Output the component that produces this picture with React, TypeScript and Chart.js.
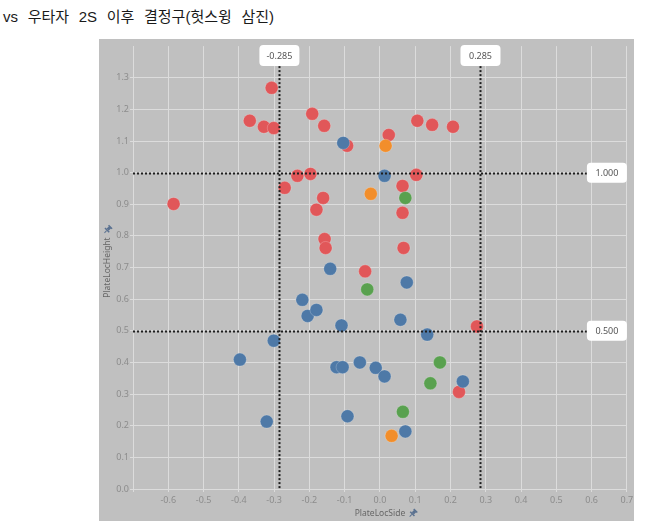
import { useEffect, useRef } from 'react';
import { Chart, registerables } from 'chart.js';

Chart.register(...registerables);

const TITLE = 'vs 우타자 2S 이후 결정구(헛스윙 삼진)';
const X_TITLE = 'PlateLocSide';
const Y_TITLE = 'PlateLocHeight';

// plate location (side, height) per pitch, grouped by mark colour
const redSide = [-0.585, -0.307, -0.369, -0.329, -0.301, -0.192, -0.158, -0.093, 0.025, 0.106, 0.148, 0.207,
  -0.270, -0.234, -0.197, -0.180, -0.161, -0.157, -0.154, 0.064, 0.103, 0.064, 0.067, -0.042, 0.275, 0.224];
const redHeight = [0.901, 1.268, 1.164, 1.145, 1.141, 1.186, 1.148, 1.085, 1.119, 1.164, 1.151, 1.145,
  0.952, 0.990, 0.996, 0.883, 0.920, 0.790, 0.762, 0.958, 0.993, 0.873, 0.762, 0.688, 0.514, 0.307];

const blueSide = [-0.104, 0.013, -0.141, -0.220, -0.205, -0.180, -0.109, 0.076, 0.058, 0.134, -0.397,
  -0.301, -0.123, -0.106, -0.057, -0.012, 0.013, 0.235, -0.321, -0.092, 0.072];
const blueHeight = [1.094, 0.990, 0.696, 0.598, 0.547, 0.566, 0.517, 0.653, 0.535, 0.488, 0.409,
  0.469, 0.385, 0.385, 0.400, 0.383, 0.356, 0.340, 0.213, 0.230, 0.182];

const orangeSide = [0.016, -0.026, 0.033];
const orangeHeight = [1.085, 0.933, 0.168];

const greenSide = [0.072, -0.036, 0.170, 0.143, 0.065];
const greenHeight = [0.920, 0.631, 0.400, 0.334, 0.244];

const refSides = [-0.285, 0.285];
const refHeights = [1.0, 0.5];

const X_MIN = -0.7;
const X_MAX = 0.7;
const Y_MIN = 0;
const Y_MAX = 1.4;
const STEP = 0.1;

const BG = '#c0c0c0';
const GRID = '#dcdcdc';
const TICK_COLOR = '#8c8c8c';
const FONT = "'Noto Sans', 'DejaVu Sans', sans-serif";

const toPoints = (xs: number[], ys: number[]) => xs.map((x, i) => ({ x, y: ys[i] }));

const fmt = (v: number) => (Math.abs(v) < 1e-9 ? '0.0' : v.toFixed(1));

function drawPin(ctx: CanvasRenderingContext2D, x: number, y: number) {
  ctx.save();
  ctx.translate(x, y);
  ctx.rotate(Math.PI / 4);
  ctx.fillStyle = '#5a7190';
  ctx.strokeStyle = '#5a7190';
  ctx.lineWidth = 1;
  ctx.fillRect(-2.5, -4, 5, 1.5);
  ctx.fillRect(-1.5, -3, 3, 3.5);
  ctx.fillRect(-3, 0.5, 6, 1.5);
  ctx.beginPath();
  ctx.moveTo(0, 2);
  ctx.lineTo(0, 5);
  ctx.stroke();
  ctx.restore();
}

function roundBox(ctx: CanvasRenderingContext2D, x: number, y: number, w: number, h: number, text: string) {
  ctx.save();
  ctx.fillStyle = '#ffffff';
  ctx.beginPath();
  ctx.roundRect(x, y, w, h, 4);
  ctx.fill();
  ctx.fillStyle = '#555555';
  ctx.font = `9px ${FONT}`;
  ctx.textAlign = 'center';
  ctx.textBaseline = 'middle';
  ctx.fillText(text, x + w / 2, y + h / 2 + 0.5);
  ctx.restore();
}

const backgroundPlugin = {
  id: 'panelBackground',
  beforeDraw(chart: Chart) {
    const { ctx, width, height } = chart;
    ctx.save();
    ctx.fillStyle = BG;
    ctx.fillRect(0, 0, width, height);
    ctx.restore();
  },
};

const referencePlugin = {
  id: 'referenceLines',
  afterDatasetsDraw(chart: Chart) {
    const { ctx, chartArea } = chart;
    const xs = chart.scales.x;
    const ys = chart.scales.y;
    const boxW = 40;
    const boxH = 21;

    ctx.save();
    ctx.strokeStyle = '#1e1e1e';
    ctx.lineWidth = 2;
    ctx.setLineDash([2, 2]);

    refSides.forEach((v) => {
      const px = Math.round(xs.getPixelForValue(v)) + 0.5;
      ctx.beginPath();
      ctx.moveTo(px, chartArea.top - 1 + boxH);
      ctx.lineTo(px, chartArea.bottom + 1);
      ctx.stroke();
    });
    refHeights.forEach((v) => {
      const py = Math.round(ys.getPixelForValue(v)) + 0.5;
      ctx.beginPath();
      ctx.moveTo(chartArea.left, py);
      ctx.lineTo(chartArea.right - boxW, py);
      ctx.stroke();
    });
    ctx.restore();

    refSides.forEach((v) => {
      const px = xs.getPixelForValue(v);
      roundBox(ctx, px - boxW / 2, chartArea.top - 1, boxW, boxH, v.toFixed(3));
    });
    refHeights.forEach((v) => {
      const py = ys.getPixelForValue(v);
      roundBox(ctx, chartArea.right - boxW, py - 10, boxW, 20, v.toFixed(3));
    });
  },
  afterDraw(chart: Chart) {
    const { ctx, chartArea } = chart;
    ctx.save();
    ctx.fillStyle = '#666666';
    ctx.font = `8.5px ${FONT}`;
    ctx.textBaseline = 'middle';

    // x axis title
    const cx = (chartArea.left + chartArea.right) / 2;
    const xw = ctx.measureText(X_TITLE).width;
    ctx.textAlign = 'center';
    ctx.fillText(X_TITLE, cx, chartArea.bottom + 25);
    drawPin(ctx, cx + xw / 2 + 8, chartArea.bottom + 24);

    // y axis title
    const cy = (chartArea.top + chartArea.bottom) / 2;
    const yw = ctx.measureText(Y_TITLE).width;
    ctx.save();
    ctx.translate(9, cy);
    ctx.rotate(-Math.PI / 2);
    ctx.fillText(Y_TITLE, 0, 0);
    ctx.restore();
    drawPin(ctx, 9, cy - yw / 2 - 8);
    ctx.restore();
  },
};

const App = () => {
  const canvasRef = useRef<HTMLCanvasElement>(null);
  const chartRef = useRef<Chart | null>(null);

  useEffect(() => {
    if (!canvasRef.current) return;
    if (chartRef.current) {
      chartRef.current.destroy();
    }
    const ctx = canvasRef.current.getContext('2d');
    if (!ctx) return;

    const pointStyle = {
      pointRadius: 6.5,
      pointHoverRadius: 6.5,
      borderWidth: 0.6,
      borderColor: 'rgba(255,255,255,0.35)',
    };

    chartRef.current = new Chart(ctx, {
      type: 'scatter',
      data: {
        datasets: [
          { label: 'green', data: toPoints(greenSide, greenHeight), backgroundColor: '#59a14f', ...pointStyle },
          { label: 'orange', data: toPoints(orangeSide, orangeHeight), backgroundColor: '#f28e2b', ...pointStyle },
          { label: 'blue', data: toPoints(blueSide, blueHeight), backgroundColor: '#4e79a7', ...pointStyle },
          { label: 'red', data: toPoints(redSide, redHeight), backgroundColor: '#e15759', ...pointStyle },
        ],
      },
      options: {
        animation: false,
        responsive: true,
        maintainAspectRatio: false,
        layout: { padding: { top: 6, right: 2, left: 0, bottom: 0 } },
        plugins: {
          legend: { display: false },
          tooltip: { enabled: false },
        },
        scales: {
          x: {
            type: 'linear',
            min: X_MIN,
            max: X_MAX,
            grid: {
              color: GRID,
              lineWidth: 1,
              tickLength: 3,
            },
            border: { color: GRID, width: 1 },
            ticks: {
              stepSize: STEP,
              autoSkip: false,
              maxRotation: 0,
              padding: 3,
              color: TICK_COLOR,
              font: { family: FONT, size: 9 },
              callback: (v) => (Math.abs(Number(v) - X_MIN) < 1e-9 ? '' : fmt(Number(v))),
            },
            afterFit: (scale: any) => {
              scale.height = 32;
              scale.paddingLeft = 0;
              scale.paddingRight = 0;
            },
          },
          y: {
            type: 'linear',
            min: Y_MIN,
            max: Y_MAX,
            grid: {
              color: (c: any) => (Math.abs(c.tick?.value - Y_MAX) < 1e-9 ? 'rgba(0,0,0,0)' : GRID),
              lineWidth: 1,
              tickLength: 3,
            },
            border: { color: GRID, width: 1 },
            ticks: {
              stepSize: STEP,
              autoSkip: false,
              padding: 1,
              color: TICK_COLOR,
              font: { family: FONT, size: 9 },
              callback: (v) => (Math.abs(Number(v) - Y_MAX) < 1e-9 ? '' : fmt(Number(v))),
            },
            afterFit: (scale: any) => {
              scale.width = 34;
              scale.paddingTop = 0;
              scale.paddingBottom = 0;
            },
          },
        },
      },
      plugins: [backgroundPlugin, referencePlugin],
    });

    return () => {
      if (chartRef.current) {
        chartRef.current.destroy();
        chartRef.current = null;
      }
    };
  }, []);

  return (
    <div style={{ position: 'absolute', left: 0, top: 0, width: 647, height: 528, background: '#fff' }}>
      <div
        style={{
          position: 'absolute',
          left: 3,
          top: 5,
          fontFamily: "'Liberation Sans', 'Noto Sans CJK KR', sans-serif",
          fontSize: 15,
          color: '#1a1a1a',
          wordSpacing: 5.5,
          whiteSpace: 'nowrap',
        }}
      >
        {TITLE}
      </div>
      <div style={{ position: 'absolute', left: 99, top: 39, width: 535, height: 482 }}>
        <canvas ref={canvasRef} />
      </div>
    </div>
  );
};

export default App;
